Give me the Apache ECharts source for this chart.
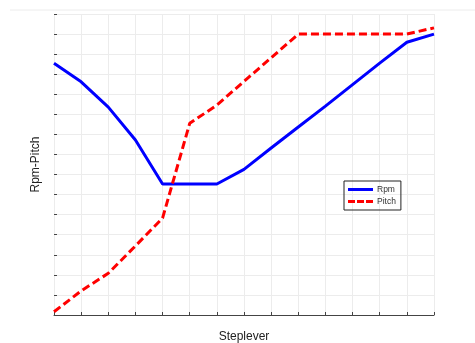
<!DOCTYPE html>
<html>
<head>
<meta charset="utf-8">
<script src="https://cdn.jsdelivr.net/npm/echarts@6/dist/echarts.min.js"></script>
<style>
    html, body { margin: 0; padding: 0; background: #fff; }
    #main { width: 475px; height: 343px; }
</style>
</head>
<body>
<div id="main"></div>
<script>
// steplever positions (0..14)
var steps = ['0', '1', '2', '3', '4', '5', '6', '7', '8', '9', '10', '11', '12', '13', '14'];
// Rpm, blue solid
var rpm = [12.54, 11.62, 10.36, 8.72, 6.53, 6.53, 6.53, 7.26, 8.32, 9.37, 10.41, 11.48, 12.55, 13.59, 14.0];
// Pitch, red dashed
var pitch = [0.16, 1.2, 2.08, 3.44, 4.83, 9.55, 10.46, 11.64, 12.82, 14.0, 14.0, 14.0, 14.0, 14.0, 14.31];

var chart = echarts.init(document.getElementById('main'));

var option = {
    animation: false,
    textStyle: { fontFamily: 'Liberation Sans, Arial, sans-serif' },
    grid: { left: 54, right: 41, top: 14, bottom: 28, outerBoundsMode: 'none', containLabel: false },
    legend: {
        left: 344,
        top: 181,
        orient: 'vertical',
        itemWidth: 25,
        itemHeight: 3,
        itemGap: 3,
        padding: [4, 5, 4, 4],
        borderColor: '#222',
        borderWidth: 1,
        textStyle: { fontSize: 8.5, color: '#333', padding: [0, 0, 0, -1] },
        data: [
            { name: 'Rpm', icon: 'rect', itemStyle: { color: '#0000ff' } },
            { name: 'Pitch', icon: 'path://M0,0h7v3h-7z M9,0h7v3h-7z M18,0h7v3h-7z', itemStyle: { color: '#ff0000' } }
        ]
    },
    xAxis: {
        type: 'category',
        data: steps,
        boundaryGap: false,
        name: 'Steplever',
        nameLocation: 'middle',
        nameGap: 16,
        nameTextStyle: { fontSize: 12, color: '#222' },
        axisLine: { lineStyle: { color: '#444', width: 1 } },
        axisTick: { inside: true, length: 3, lineStyle: { color: '#444' }, alignWithLabel: true },
        axisLabel: { show: false },
        splitLine: { show: true, lineStyle: { color: '#ececec', width: 1 } }
    },
    yAxis: {
        type: 'value',
        min: 0,
        max: 15,
        interval: 1,
        name: 'Rpm-Pitch',
        nameLocation: 'middle',
        nameGap: 12,
        nameTextStyle: { fontSize: 12, color: '#222' },
        axisLine: { show: false },
        axisTick: { show: true, inside: true, length: 3, lineStyle: { color: '#444' } },
        axisLabel: { show: false },
        splitLine: { show: true, lineStyle: { color: '#ececec', width: 1 } }
    },
    graphic: [{
        type: 'line',
        shape: { x1: 10, y1: 10, x2: 475, y2: 10 },
        style: { stroke: '#ececec', lineWidth: 1 },
        silent: true
    }],
    series: [
        {
            name: 'Rpm',
            type: 'line',
            data: rpm,
            symbol: 'none',
            color: '#0000ff',
            lineStyle: { color: '#0000ff', width: 3 }
        },
        {
            name: 'Pitch',
            type: 'line',
            data: pitch,
            symbol: 'none',
            color: '#ff0000',
            lineStyle: { color: '#ff0000', width: 3, type: [8, 4] }
        }
    ]
};
chart.setOption(option);
</script>
</body>
</html>
